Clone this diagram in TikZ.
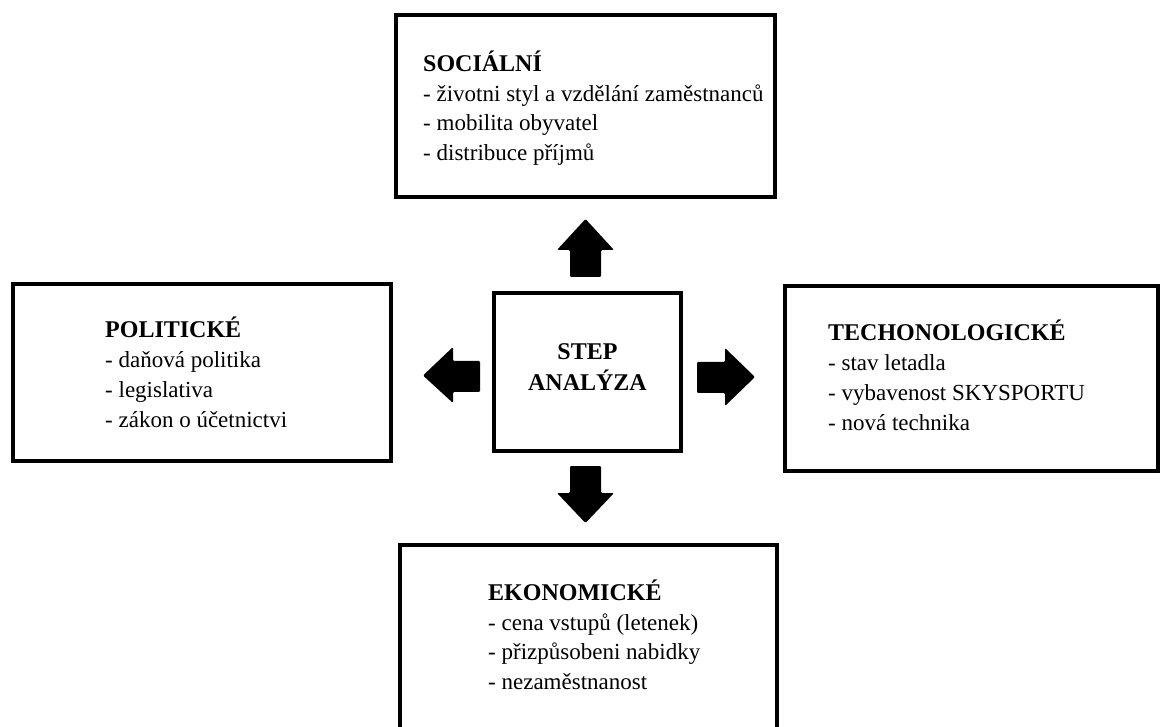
\documentclass[tikz,border=0pt]{standalone}
\usepackage{fontspec}
\setmainfont{Liberation Serif}
\begin{document}
\begin{tikzpicture}[x=1pt,y=-1pt,
  boxstyle/.style={draw=black,line width=4pt,rectangle,inner sep=0pt,fill=none},
  ttl/.style={anchor=base west,inner sep=0pt,font=\fontsize{24}{28}\selectfont\bfseries},
  itm/.style={anchor=base west,inner sep=0pt,font=\fontsize{23}{28}\selectfont},
  ctr/.style={anchor=base,inner sep=0pt,font=\fontsize{24}{28}\selectfont\bfseries},
  blockarrow/.style={fill=black,rounded corners=1.2pt}]
\useasboundingbox (0,0) rectangle (1160,727);
\clip (0,0) rectangle (1160,727);
% boxes
\node[boxstyle,minimum width=379pt,minimum height=182pt] (soc) at (585.5,106) {};
\node[boxstyle,minimum width=378.5pt,minimum height=176.5pt] (pol) at (201.75,372.75) {};
\node[boxstyle,minimum width=187pt,minimum height=158pt] (step) at (587.5,372) {};
\node[boxstyle,minimum width=373.5pt,minimum height=184pt] (tech) at (971.25,378.5) {};
\node[boxstyle,minimum width=377.5pt,minimum height=195pt] (eko) at (588.25,642.5) {};
% texts
\node[ttl] (s0) at (423,72) {SOCIÁLNÍ};
\node[itm] (s1) at (423,101.5) {- životni styl a vzdělání zaměstnanců};
\node[itm] (s2) at (423,131) {- mobilita obyvatel};
\node[itm] (s3) at (423,160.5) {- distribuce příjmů};
\node[ttl] (p0) at (105,338) {POLITICKÉ};
\node[itm] (p1) at (105,368) {- daňová politika};
\node[itm] (p2) at (105,398) {- legislativa};
\node[itm] (p3) at (105,428) {- zákon o účetnictvi};
\node[ttl] (t0) at (828,341) {TECHONOLOGICKÉ};
\node[itm] (t1) at (828,371) {- stav letadla};
\node[itm] (t2) at (828,400.5) {- vybavenost SKYSPORTU};
\node[itm] (t3) at (828,430) {- nová technika};
\node[ttl] (e0) at (488,600) {EKONOMICKÉ};
\node[itm] (e1) at (488,630) {- cena vstupů (letenek)};
\node[itm] (e2) at (488,659.5) {- přizpůsobeni nabidky};
\node[itm] (e3) at (488,689) {- nezaměstnanost};
\node[ctr] (c0) at (587.5,360) {STEP};
\node[ctr] (c1) at (587.5,391) {ANALÝZA};
% block arrows
\fill[blockarrow] (585.5,219) -- (614,250) -- (601,250) -- (601,277) -- (570,277) -- (570,250) -- (557,250) -- cycle;
\fill[blockarrow] (585.5,523) -- (614,493) -- (601,493) -- (601,466) -- (570,466) -- (570,493) -- (557,493) -- cycle;
\fill[blockarrow] (755,377) -- (725,348) -- (725,362) -- (697,362) -- (697,393) -- (725,393) -- (725,406) -- cycle;
\fill[blockarrow] (423,375.5) -- (453,347) -- (453,361) -- (480,361) -- (480,392) -- (453,392) -- (453,403) -- cycle;
\end{tikzpicture}
\end{document}
